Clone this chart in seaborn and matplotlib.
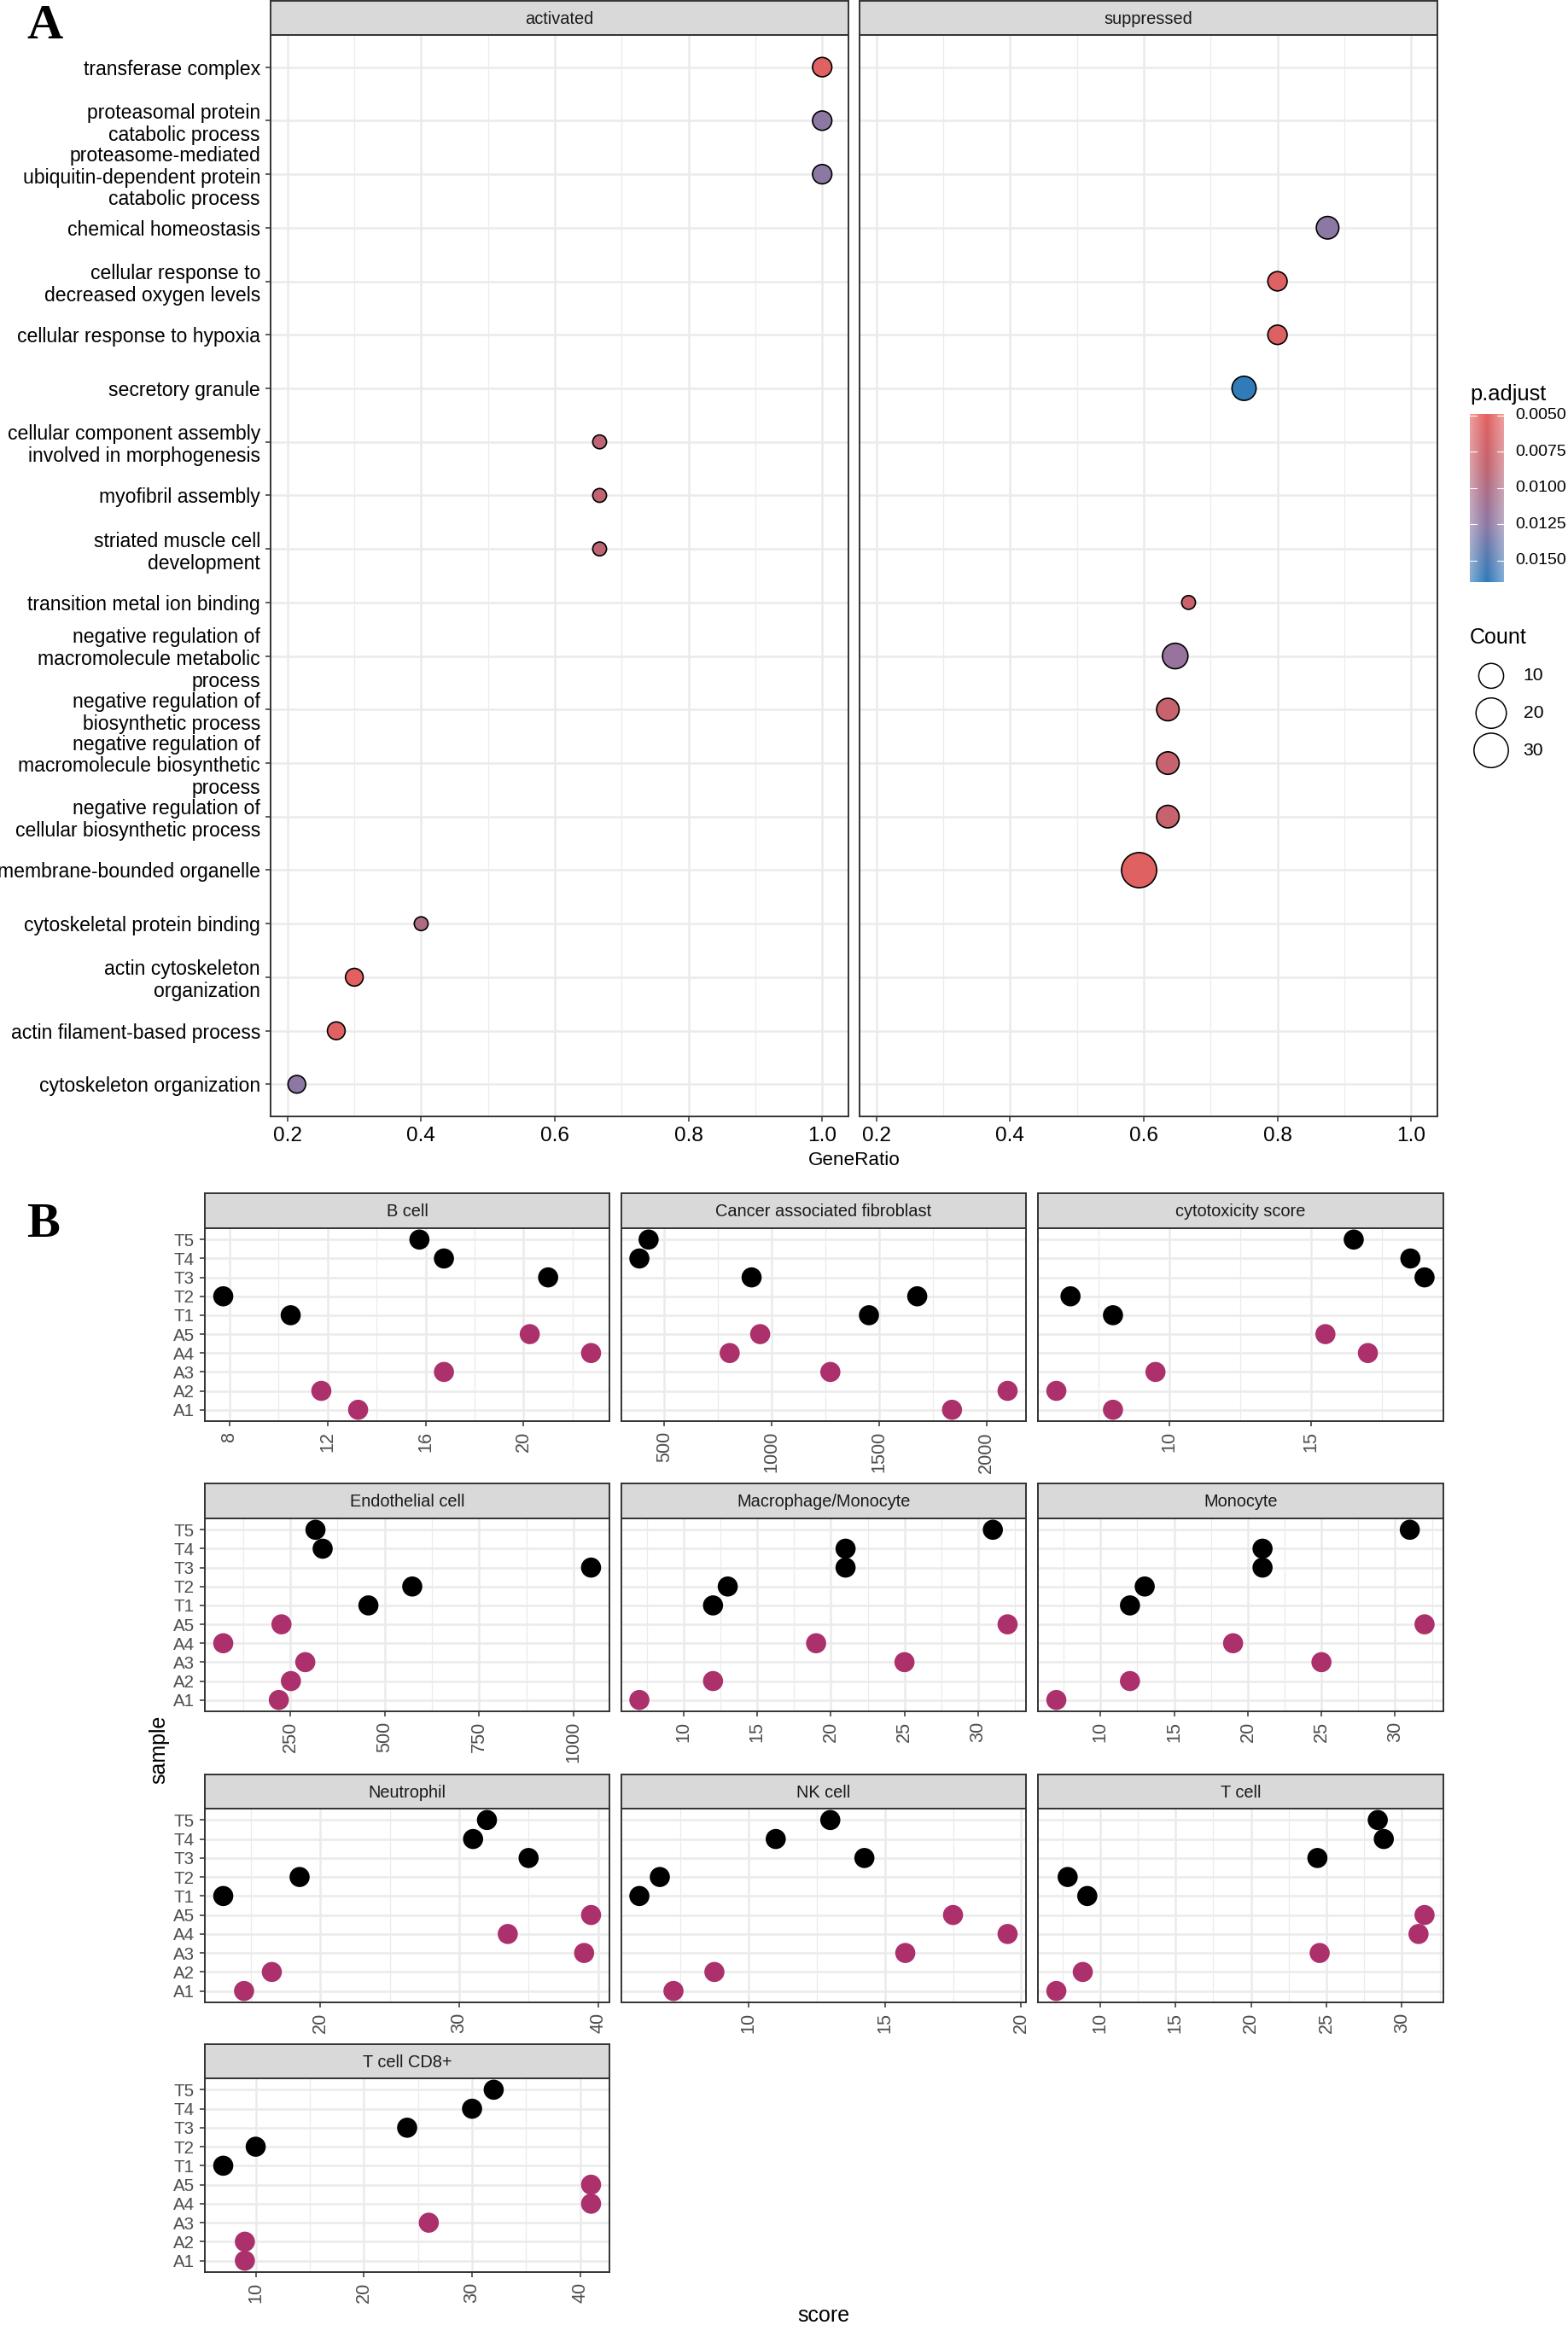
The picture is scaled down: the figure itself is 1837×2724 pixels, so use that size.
import numpy as np
import pandas as pd
import seaborn as sns
import matplotlib
matplotlib.use("Agg")
import matplotlib.pyplot as plt
from matplotlib.colors import LinearSegmentedColormap, Normalize

W, H, DPI = 1837, 2724, 200

# ---- panel A data, top row first
terms = ["transferase complex",
         "proteasomal protein\ncatabolic process",
         "proteasome-mediated\nubiquitin-dependent protein\ncatabolic process",
         "chemical homeostasis",
         "cellular response to\ndecreased oxygen levels",
         "cellular response to hypoxia",
         "secretory granule",
         "cellular component assembly\ninvolved in morphogenesis",
         "myofibril assembly",
         "striated muscle cell\ndevelopment",
         "transition metal ion binding",
         "negative regulation of\nmacromolecule metabolic\nprocess",
         "negative regulation of\nbiosynthetic process",
         "negative regulation of\nmacromolecule biosynthetic\nprocess",
         "negative regulation of\ncellular biosynthetic process",
         "membrane-bounded organelle",
         "cytoskeletal protein binding",
         "actin cytoskeleton\norganization",
         "actin filament-based process",
         "cytoskeleton organization"]
direction = ["activated", "activated", "activated", "suppressed", "suppressed",
             "suppressed", "suppressed", "activated", "activated", "activated",
             "suppressed", "suppressed", "suppressed", "suppressed", "suppressed",
             "suppressed", "activated", "activated", "activated", "activated"]
gene_ratio = [1.0, 1.0, 1.0, 0.875, 0.8, 0.8, 0.75, 0.667, 0.667, 0.667,
              0.667, 0.647, 0.636, 0.636, 0.636, 0.593, 0.4, 0.3, 0.273, 0.214]
counts = [4, 4, 4, 7, 4, 4, 9, 2, 2, 2, 2, 11, 7, 7, 7, 32, 2, 3, 3, 3]
p_adjust = [0.0055, 0.0125, 0.0125, 0.0125, 0.0055, 0.0058, 0.0162, 0.0088, 0.0086, 0.0088,
            0.0078, 0.0118, 0.0080, 0.0082, 0.0082, 0.0055, 0.0100, 0.0052, 0.0055, 0.0125]
cbar_ticks = [0.005, 0.0075, 0.01, 0.0125, 0.015]
cbar_labels = ["0.0050", "0.0075", "0.0100", "0.0125", "0.0150"]
legend_counts = [10, 20, 30]

# ---- panel B data, all in the order of samples
samples = ["T5", "T4", "T3", "T2", "T1", "A5", "A4", "A3", "A2", "A1"]
groups = ["T"] * 5 + ["A"] * 5
b_cell = [15.75, 16.75, 21, 7.75, 10.5, 20.25, 22.75, 16.75, 11.75, 13.25]
fibroblast = [426, 383, 906, 1678, 1453, 946, 804, 1273, 2099, 1840]
cytotoxicity = [16.5, 18.5, 19, 6.5, 8, 15.5, 17, 9.5, 6, 8]
endothelial = [317, 336, 1046, 573, 457, 227, 73, 290, 252, 220]
macrophage = [31, 21, 21, 13, 12, 32, 19, 25, 12, 7]
monocyte = [31, 21, 21, 13, 12, 32, 19, 25, 12, 7]
neutrophil = [32, 31, 35, 18.5, 13, 39.5, 33.5, 39, 16.5, 14.5]
nk_cell = [13, 11, 14.25, 6.75, 6, 17.5, 19.5, 15.75, 8.75, 7.25]
t_cell = [28.4, 28.8, 24.4, 7.85, 9.15, 31.5, 31.1, 24.55, 8.85, 7.1]
t_cell_cd8 = [32, 30, 24, 10, 7, 41, 41, 26, 9, 9]

facets = [("B cell", b_cell, [8, 12, 16, 20]),
          ("Cancer associated fibroblast", fibroblast, [500, 1000, 1500, 2000]),
          ("cytotoxicity score", cytotoxicity, [5, 10, 15, 20]),
          ("Endothelial cell", endothelial, [250, 500, 750, 1000]),
          ("Macrophage/Monocyte", macrophage, [10, 15, 20, 25, 30]),
          ("Monocyte", monocyte, [10, 15, 20, 25, 30]),
          ("Neutrophil", neutrophil, [20, 30, 40]),
          ("NK cell", nk_cell, [10, 15, 20]),
          ("T cell", t_cell, [10, 15, 20, 25, 30]),
          ("T cell CD8+", t_cell_cd8, [10, 20, 30, 40])]

sns.set_theme(style="white")
plt.rcParams["font.family"] = ["Liberation Sans", "DejaVu Sans"]
plt.rcParams["text.color"] = "black"

fig = plt.figure(figsize=(W / DPI, H / DPI), dpi=DPI)
PX = 72 / DPI  # one pixel in points
GRID = "#EBEBEB"
DARK = "#333333"


def px_axes(x0, y0, x1, y1, **kw):
    return fig.add_axes([x0 / W, 1 - y1 / H, (x1 - x0) / W, (y1 - y0) / H], **kw)


def px_text(x, y, s, **kw):
    return fig.text(x / W, 1 - y / H, s, **kw)


def strip(x0, y0, x1, y1, label, size):
    ax = px_axes(x0, y0, x1, y1, facecolor="#D9D9D9")
    ax.set_xticks([])
    ax.set_yticks([])
    for sp in ax.spines.values():
        sp.set_color(DARK)
        sp.set_linewidth(0.7)
    ax.text(0.5, 0.47, label, transform=ax.transAxes, ha="center", va="center",
            fontsize=size, color="#1A1A1A")


def style_panel(ax, majors, tick_color, xsize, ysize):
    # theme_bw look, minor grid halfway between the majors
    majors = np.array(majors, dtype=float)
    step = majors[1] - majors[0]
    minors = np.arange(majors[0] - step / 2, majors[-1] + step, step)
    lims = ax.get_xlim()
    ax.set_xticks(majors)
    ax.set_xticks(minors, minor=True)
    ax.set_xlim(lims)
    ax.grid(True, which="major", color=GRID, lw=0.9)
    ax.grid(True, which="minor", axis="x", color=GRID, lw=0.45)
    ax.set_axisbelow(True)
    ax.tick_params(axis="x", which="minor", length=0)
    ax.tick_params(axis="both", which="major", length=6 * PX, width=0.55, color=DARK,
                   pad=2.2, labelcolor=tick_color, bottom=True, left=True)
    ax.tick_params(axis="x", which="major", labelsize=xsize)
    ax.tick_params(axis="y", which="major", labelsize=ysize)
    for sp in ax.spines.values():
        sp.set_color(DARK)
        sp.set_linewidth(0.7)
    ax.set_xlabel("")
    ax.set_ylabel("")


# ---- panel A
go = pd.DataFrame({"term": pd.Categorical(terms, categories=terms[::-1]),
                   "direction": direction, "GeneRatio": gene_ratio,
                   "Count": counts, "p.adjust": p_adjust})
cmap = LinearSegmentedColormap.from_list(
    "padj", [(0, "#E5605E"), (0.3, "#C4636F"), (0.66, "#8C78A5"), (1, "#2B7BBA")])
norm = Normalize(0.0049, 0.0165)
count_lo, count_hi = min(counts), max(counts)


def count_size(c):
    # diameter follows sqrt of rescaled count, 17 to 42 px
    d = 17 + 25 * np.sqrt((c - count_lo) / (count_hi - count_lo))
    return ((d - 0.8) * PX) ** 2


size_map = {c: count_size(c) for c in set(counts) | set(legend_counts)}
span = max(gene_ratio) - min(gene_ratio)
ratio_lims = (min(gene_ratio) - 0.05 * span, max(gene_ratio) + 0.05 * span)

for name, x0, x1 in [("activated", 317, 994), ("suppressed", 1007, 1684)]:
    strip(x0, 1, x1, 41, name, 7.2)
    ax = px_axes(x0, 41, x1, 1308)
    sub = go[go["direction"] == name]
    sns.scatterplot(data=sub, x="GeneRatio", y="term", hue="p.adjust", size="Count",
                    palette=cmap, hue_norm=norm, sizes=size_map, edgecolor="black",
                    linewidth=0.6, legend=False, ax=ax, zorder=3)
    ax.set_xlim(ratio_lims)
    style_panel(ax, [0.2, 0.4, 0.6, 0.8, 1.0], "black", 8.8, 8.3)
    ax.set_xticklabels(["0.2", "0.4", "0.6", "0.8", "1.0"])
    ax.set_ylim(-0.6, len(terms) - 0.4)
    ax.set_yticks(range(len(terms)))
    if name == "activated":
        ax.set_yticklabels(terms[::-1], linespacing=1.16, ha="right", multialignment="right")
    else:
        ax.tick_params(axis="y", which="both", left=False, labelleft=False)

px_text(1001, 1359, "GeneRatio", ha="center", va="center", fontsize=8.1)

# ---- colour legend
px_text(1722, 462, "p.adjust", ha="left", va="center", fontsize=9.2)
cax = px_axes(1722, 485, 1762, 682)
grad = np.linspace(norm.vmin, norm.vmax, 256).reshape(-1, 1)
fade = np.interp(np.linspace(-1, 1, 41), [-1, 0, 1], [0.62, 1, 0.62])
cax.imshow(np.repeat(grad, 41, axis=1), cmap=cmap, norm=norm, aspect="auto",
           alpha=np.tile(fade, (256, 1)), extent=(0, 1, norm.vmax, norm.vmin))
cax.set_xlim(0, 1)
cax.set_ylim(norm.vmax, norm.vmin)
cax.set_xticks([])
cax.set_yticks([])
for sp in cax.spines.values():
    sp.set_visible(False)
for tk, lab in zip(cbar_ticks, cbar_labels):
    cax.plot([0, 0.2], [tk, tk], color="white", lw=0.4)
    cax.plot([0.8, 1], [tk, tk], color="white", lw=0.4)
    cax.text(1.33, tk, lab, ha="left", va="center", fontsize=7, color="black")

# ---- size legend
px_text(1722, 747, "Count", ha="left", va="center", fontsize=9)
kax = px_axes(1722, 770, 1772, 901)
count_names = [str(c) for c in legend_counts]
key = pd.DataFrame({"x": [0] * 3, "Count": legend_counts,
                    "row": pd.Categorical(count_names, categories=count_names[::-1])})
sns.scatterplot(data=key, x="x", y="row", size="Count", sizes=size_map, color="white",
                edgecolor="black", linewidth=0.55, legend=False, ax=kax, clip_on=False)
kax.set_ylim(-0.5, 2.5)
kax.set_xlim(-1, 1)
kax.axis("off")
for i, lab in enumerate(count_names[::-1]):
    kax.text(1.5, i, lab, ha="left", va="center", fontsize=7.6, color="black")

# ---- panel B
columns = [(240, 714), (727.5, 1202), (1216, 1690.5)]
rows = [(1398, 1439, 1665), (1738, 1779, 2005), (2079, 2119, 2346), (2395, 2435, 2662)]
order = samples[::-1]

for i, (title, scores, ticks) in enumerate(facets):
    rt, rm, rb = rows[i // 3]
    x0, x1 = columns[i % 3]
    strip(x0, rt, x1, rm, title, 7.2)
    ax = px_axes(x0, rm, x1, rb)
    frame = pd.DataFrame({"sample": pd.Categorical(samples, categories=order),
                          "group": groups, "score": scores})
    sns.scatterplot(data=frame, x="score", y="sample", hue="group",
                    palette={"T": "black", "A": "#AB306B"}, s=72, linewidth=0,
                    legend=False, ax=ax, zorder=3)
    ax.margins(x=0.05)
    ax.autoscale_view(scaley=False)
    style_panel(ax, ticks, "#4D4D4D", 7.8, 7.4)
    ax.set_xticklabels([str(t) for t in ticks], rotation=90, ha="center", va="top")
    ax.set_ylim(-0.6, len(samples) - 0.4)
    ax.set_yticks(range(len(samples)))
    if i % 3 == 0:
        ax.set_yticklabels(order)
    else:
        ax.tick_params(axis="y", which="both", left=False, labelleft=False)

px_text(186, 2050, "sample", rotation=90, ha="center", va="center", fontsize=9)
px_text(965, 2713, "score", ha="center", va="center", fontsize=9)

# ---- panel letters
for letter, ly in [("A", 31), ("B", 1435)]:
    px_text(31, ly, letter, ha="left", va="center", fontsize=21, fontweight="bold",
            family=["Liberation Serif"], color="black")

fig.savefig("out.png", dpi=DPI)
